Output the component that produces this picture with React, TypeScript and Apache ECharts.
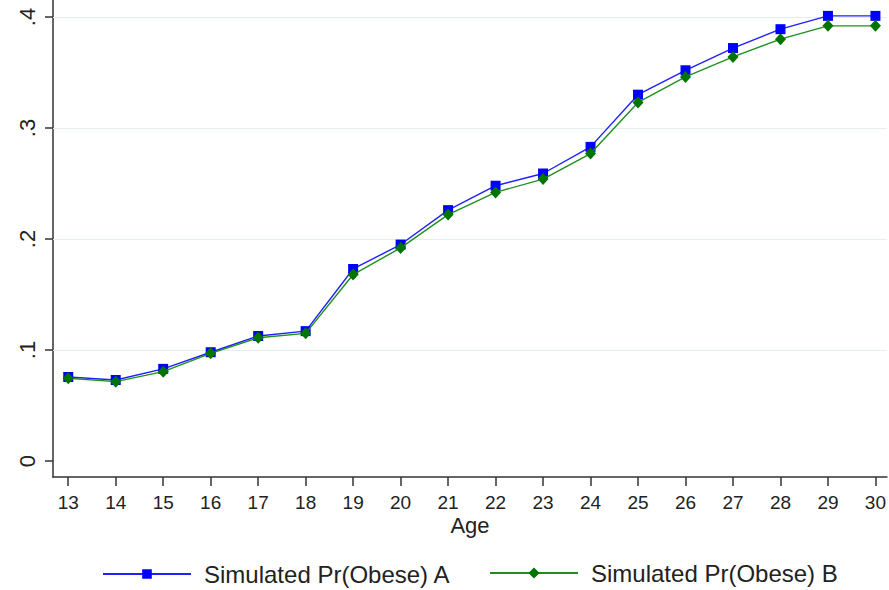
import React, { useEffect, useRef } from "react";
import * as echarts from "echarts";

const ages = [13, 14, 15, 16, 17, 18, 19, 20, 21, 22, 23, 24, 25, 26, 27, 28, 29, 30];
const seriesA = [0.0757, 0.073, 0.083, 0.098, 0.1126, 0.117, 0.173, 0.195, 0.226, 0.248, 0.259, 0.283, 0.330, 0.352, 0.372, 0.389, 0.401, 0.401];
const seriesB = [0.0745, 0.0715, 0.0805, 0.097, 0.111, 0.115, 0.168, 0.192, 0.222, 0.242, 0.254, 0.277, 0.323, 0.346, 0.364, 0.380, 0.392, 0.392];
const yTicks = [0, 0.1, 0.2, 0.3, 0.4];
const gridLines = [0.1, 0.2, 0.3, 0.4];
const nameA = "Simulated Pr(Obese) A";
const nameB = "Simulated Pr(Obese) B";

const FONT = "'Liberation Sans', Arial, sans-serif";

export default function App() {
  const ref = useRef<HTMLDivElement>(null);
  useEffect(() => {
    if (!ref.current) return;
    const chart = echarts.init(ref.current, null, { renderer: "svg" });
    const axisColor = "#333333";
    const legendBase = {
      itemWidth: 88,
      padding: 0,
      selectedMode: false,
      textStyle: { fontSize: 24, color: "#222", fontFamily: FONT, padding: [0, 0, 0, 8] },
    };
    chart.setOption({
      animation: false,
      backgroundColor: "#ffffff",
      textStyle: { fontFamily: FONT },
      grid: { left: 53, right: 0, top: 0, bottom: 113, containLabel: false },
      legend: [
        { ...legendBase, data: [nameA], left: 102, top: 562, itemHeight: 12 },
        { ...legendBase, data: [nameB], left: 489, top: 561, itemHeight: 14 },
      ],
      xAxis: {
        type: "value",
        min: 12.679,
        max: 30.242,
        name: "Age",
        nameLocation: "middle",
        nameGap: 41,
        nameMoveOverlap: false,
        nameTextStyle: { fontSize: 22, lineHeight: 14, color: "#222", fontFamily: FONT },
        axisLine: { show: true, onZero: false, lineStyle: { color: axisColor, width: 1.5 } },
        axisTick: { show: true, length: 9, customValues: ages, lineStyle: { color: axisColor, width: 1.5 } },
        axisLabel: { customValues: ages, fontSize: 19, lineHeight: 15, color: "#222", margin: 18, fontFamily: FONT },
        splitLine: { show: false },
      },
      yAxis: {
        type: "value",
        min: -0.0144,
        max: 0.4153,
        axisLine: { show: true, onZero: false, lineStyle: { color: axisColor, width: 1.5 } },
        axisTick: { show: true, length: 8, customValues: yTicks, lineStyle: { color: axisColor, width: 1.5 } },
        axisLabel: {
          customValues: yTicks,
          rotate: 90,
          fontSize: 22,
          color: "#222",
          margin: 15,
          fontFamily: FONT,
          formatter: (v: number) => (v === 0 ? "0" : String(Number(v.toFixed(1))).replace(/^0/, "")),
        },
        splitLine: { show: false },
      },
      series: [
        {
          name: nameA,
          type: "line",
          data: ages.map((a, i) => [a, seriesA[i]]),
          symbol: "rect",
          symbolSize: 10,
          z: 3,
          lineStyle: { color: "#1f1fff", width: 1.4 },
          itemStyle: { color: "#0000ff" },
          markLine: {
            silent: true,
            symbol: "none",
            z: 1,
            label: { show: false },
            lineStyle: { color: "#e6edf1", type: "solid", width: 1.2 },
            data: gridLines.map((g) => ({ yAxis: g })),
          },
        },
        {
          name: nameB,
          type: "line",
          data: ages.map((a, i) => [a, seriesB[i]]),
          symbol: "diamond",
          symbolSize: [11, 12],
          z: 4,
          lineStyle: { color: "#1f8f1f", width: 1.4 },
          itemStyle: { color: "#007400" },
        },
      ],
    });
    return () => chart.dispose();
  }, []);
  return (
    <div
      ref={ref}
      style={{ position: "fixed", left: 0, top: 0, width: 889, height: 590 }}
    />
  );
}
